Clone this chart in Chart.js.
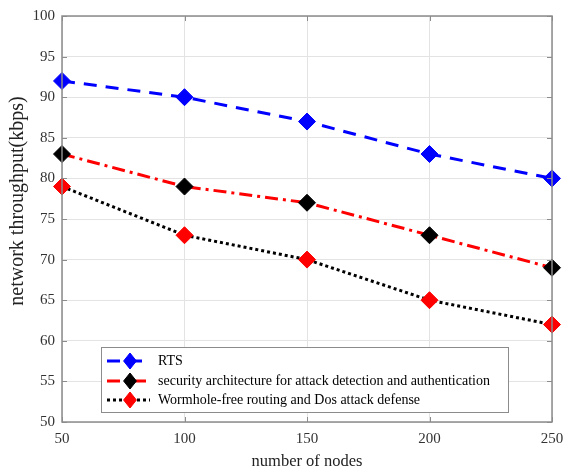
<!DOCTYPE html>
<html><head><meta charset="utf-8">
<script src="https://cdn.jsdelivr.net/npm/chart.js@4/dist/chart.umd.min.js"></script>
<style>html,body{margin:0;padding:0;background:#fff;}#wrap{width:583px;height:472px;}</style>
</head><body><div id="wrap"><canvas id="c" width="583" height="472"></canvas></div>
<script>
const nodes = [50, 100, 150, 200, 250];
const rts = [92, 90, 87, 83, 80];
const security = [83, 79, 77, 73, 69];
const wormhole = [79, 73, 70, 65, 62];
const seriesNames = ['RTS', 'security architecture for attack detection and authentication', 'Wormhole-free routing and Dos attack defense'];
const yTicks = [50, 55, 60, 65, 70, 75, 80, 85, 90, 95, 100];
const xTicks = [50, 100, 150, 200, 250];
const yTitle = 'network throughput(kbps)';

const FONT = '"Liberation Serif", "Times New Roman", serif';
const pts = arr => nodes.map((n, i) => ({x: n, y: arr[i]}));

const styles = [
  {line: '#0000ff', dash: [13, 9], fill: '#0000ff', stroke: '#0000ff'},
  {line: '#ff0000', dash: [13, 5, 3, 5], fill: '#000000', stroke: '#000000'},
  {line: '#000000', dash: [3, 3], fill: '#ff0000', stroke: '#ff0000'}
];

const legendPlugin = {
  id: 'customLegend',
  afterDatasetsDraw(chart) {
    const ctx = chart.ctx;
    const ca = chart.chartArea;
    const xs = chart.scales.x, ys = chart.scales.y;
    ctx.save();
    // y title
    ctx.save();
    ctx.translate(18, 201);
    ctx.rotate(-Math.PI / 2);
    ctx.fillStyle = '#222';
    ctx.font = '20px ' + FONT;
    ctx.textAlign = 'center';
    ctx.textBaseline = 'middle';
    ctx.fillText(yTitle, 0, 0);
    ctx.restore();
    // frame
    ctx.strokeStyle = '#8c8c8c';
    ctx.lineWidth = 1.5;
    ctx.setLineDash([]);
    ctx.strokeRect(ca.left, ca.top, ca.right - ca.left, ca.bottom - ca.top);
    // inner ticks on all sides
    ctx.lineWidth = 1;
    ctx.beginPath();
    xTicks.forEach(v => {
      const px = Math.round(xs.getPixelForValue(v)) + 0.5;
      ctx.moveTo(px, ca.bottom); ctx.lineTo(px, ca.bottom - 5);
      ctx.moveTo(px, ca.top); ctx.lineTo(px, ca.top + 5);
    });
    yTicks.forEach(v => {
      const py = Math.round(ys.getPixelForValue(v)) + 0.5;
      ctx.moveTo(ca.left, py); ctx.lineTo(ca.left + 5, py);
      ctx.moveTo(ca.right, py); ctx.lineTo(ca.right - 5, py);
    });
    ctx.stroke();
    // legend box
    const bx = 101, by = 347, bw = 407, bh = 65;
    ctx.fillStyle = '#ffffff';
    ctx.fillRect(bx, by, bw, bh);
    ctx.strokeStyle = '#8c8c8c';
    ctx.lineWidth = 1;
    ctx.strokeRect(bx + 0.5, by + 0.5, bw, bh);
    const rows = [361, 381, 400];
    chart.data.datasets.forEach((ds, i) => {
      const y = rows[i];
      ctx.strokeStyle = ds.borderColor;
      ctx.lineWidth = 3;
      ctx.setLineDash(ds.borderDash);
      ctx.beginPath(); ctx.moveTo(107, y); ctx.lineTo(150, y); ctx.stroke();
      ctx.setLineDash([]);
      const r = 8;
      ctx.fillStyle = ds.pointBackgroundColor;
      ctx.strokeStyle = ds.pointBorderColor;
      ctx.lineWidth = 1;
      ctx.beginPath();
      ctx.moveTo(130, y - r); ctx.lineTo(130 + r * 0.8, y); ctx.lineTo(130, y + r); ctx.lineTo(130 - r * 0.8, y); ctx.closePath();
      ctx.fill(); ctx.stroke();
      ctx.fillStyle = '#000';
      ctx.font = '14px ' + FONT;
      ctx.textBaseline = 'middle';
      ctx.textAlign = 'left';
      ctx.fillText(ds.label, 158, y);
    });
    ctx.restore();
  }
};

const datasets = [rts, security, wormhole].map((arr, i) => ({
  label: seriesNames[i],
  data: pts(arr),
  borderColor: styles[i].line,
  borderDash: styles[i].dash,
  borderWidth: 3,
  pointStyle: 'rectRot',
  pointRadius: 8.5,
  pointHoverRadius: 8.5,
  pointBackgroundColor: styles[i].fill,
  pointBorderColor: styles[i].stroke,
  pointBorderWidth: 1,
  tension: 0,
  clip: false,
  fill: false
}));

new Chart(document.getElementById('c'), {
  type: 'line',
  data: {datasets},
  options: {
    responsive: false,
    animation: false,
    devicePixelRatio: 1,
    layout: {padding: {left: 0, right: 31, top: 14, bottom: 0}},
    plugins: {legend: {display: false}, tooltip: {enabled: false}},
    scales: {
      x: {
        type: 'linear', min: 50, max: 250,
        afterBuildTicks: s => { s.ticks = xTicks.map(v => ({value: v})); },
        afterFit: s => { s.height = 50; },
        grid: {color: '#e3e3e3', drawTicks: false},
        border: {display: false},
        ticks: {color: '#333', font: {family: FONT, size: 15}, padding: 8},
        title: {display: true, text: 'number of nodes', color: '#222', font: {family: FONT, size: 16.5}, padding: {top: 0, bottom: 0}}
      },
      y: {
        type: 'linear', min: 50, max: 100,
        afterBuildTicks: s => { s.ticks = yTicks.map(v => ({value: v})); },
        afterFit: s => { s.width = 62; },
        grid: {color: '#e3e3e3', drawTicks: false},
        border: {display: false},
        ticks: {color: '#333', font: {family: FONT, size: 15}, padding: 7},
        title: {display: false}
      }
    }
  },
  plugins: [legendPlugin]
});
</script></body></html>
